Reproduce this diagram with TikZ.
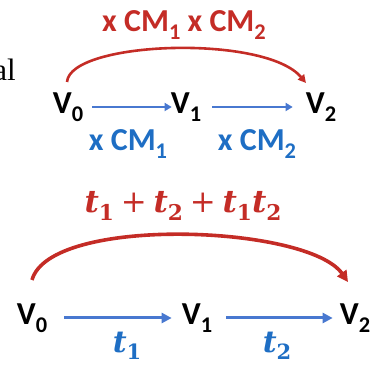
\documentclass[tikz,border=0pt]{standalone}
\usepackage{fontspec}
\setmainfont{Carlito}
\newfontfamily\serifal{Liberation Serif}
\newfontfamily\mathser{DejaVu Serif}
\usepackage{graphicx}
\usetikzlibrary{arrows.meta}
\definecolor{cmred}{RGB}{196,44,38}
\definecolor{arrblue}{RGB}{72,120,208}
\definecolor{lblblue}{RGB}{30,110,196}
\newcommand\lsub[1]{\raisebox{-0.24em}{\scalebox{0.7}{#1}}}
\newcommand\tv[1]{{\bfseries\itshape t}\lsub{\bfseries #1}}
\newcommand\pl{\hspace{0.22em}{+}\hspace{0.22em}}
\begin{document}
\begin{tikzpicture}[x=1pt,y=1pt,
  vtx/.style={font=\fontsize{32}{33}\selectfont\bfseries, inner sep=0pt, text=black},
  redlbl/.style={font=\fontsize{32}{33}\selectfont\bfseries, inner sep=0pt, text=cmred},
  bluelbl/.style={font=\fontsize{32}{33}\selectfont\bfseries, inner sep=0pt, text=lblblue},
  redmath/.style={font=\mathser\fontsize{31}{32}\selectfont, inner sep=0pt, text=cmred},
  bluemath/.style={font=\mathser\fontsize{30}{31}\selectfont, inner sep=0pt, text=lblblue},
  barrow/.style={draw=arrblue, line width=2.2pt, -{Triangle[length=7pt,width=8pt]}},
  rarrow/.style={draw=cmred, line width=2.6pt, -{Triangle[length=8pt,width=8pt]}},
  barrowb/.style={draw=arrblue, line width=3pt, -{Triangle[length=10pt,width=10pt]}},
  rarrowb/.style={draw=cmred, line width=3.6pt, -{Triangle[length=11pt,width=11pt]}}]
\useasboundingbox (0,0) rectangle (380,364);

% stray text at left
\node[anchor=base east, inner sep=0pt, font=\serifal\fontsize{31}{31}\selectfont] (al) at (16,283) {al};

% ---------- top diagram ----------
\node[vtx] (v0) at (68,257) {V\lsub{0}};
\node[vtx] (v1) at (186,257) {V\lsub{1}};
\node[vtx] (v2) at (321,257) {V\lsub{2}};
\node[redlbl] (ttl) at (184,339) {x CM\lsub{1} x CM\lsub{2}};
\node[bluelbl] (l1) at (128,220) {x CM\lsub{1}};
\node[bluelbl] (l2) at (257,220) {x CM\lsub{2}};
\draw[barrow, shorten <=9pt, shorten >=-1pt] (v0) -- (v1);
\draw[barrow, shorten <=11pt, shorten >=13pt] (v1) -- (v2);
\coordinate (ta) at (67,282);
\coordinate (tb) at (306,281);
\draw[rarrow] (ta) .. controls (70,323) and (265,330) .. (tb);

% ---------- bottom diagram ----------
\node[vtx] (w0) at (32,46) {V\lsub{0}};
\node[vtx] (w1) at (197,46) {V\lsub{1}};
\node[vtx] (w2) at (355,46) {V\lsub{2}};
\node[redmath] (bttl) at (183,158) {\tv{1}\pl\tv{2}\pl\tv{1}\tv{2}};
\node[bluemath] (m1) at (127,18) {\tv{1}};
\node[bluemath] (m2) at (277,18) {\tv{2}};
\draw[barrowb, shorten <=17pt, shorten >=10pt] (w0) -- (w1);
\draw[barrowb, shorten <=14pt, shorten >=7pt] (w1) -- (w2);
\coordinate (ba) at (32,84);
\coordinate (bb) at (348,82);
\draw[rarrowb] (ba) .. controls (50,149) and (308,139) .. (bb);
\end{tikzpicture}
\end{document}
